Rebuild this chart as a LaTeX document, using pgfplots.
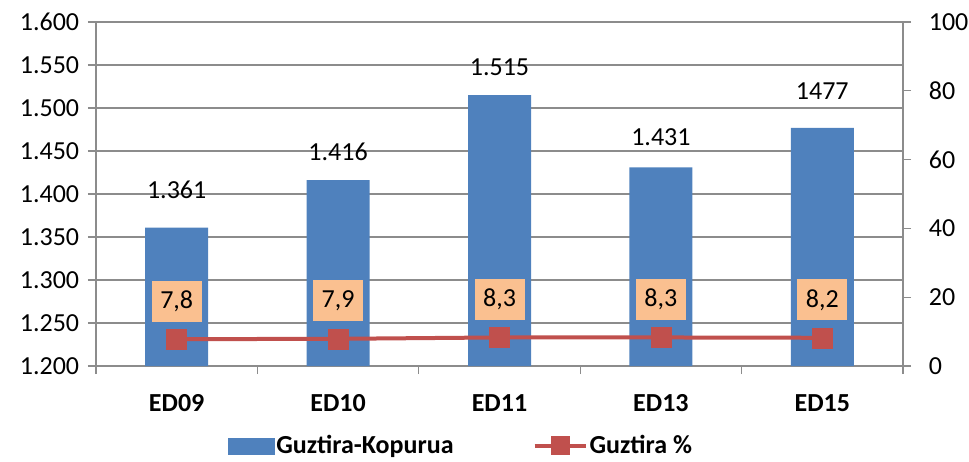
\documentclass[border=0pt]{standalone}
\usepackage{pgfplots}
\pgfplotsset{compat=1.18}
\usepackage{fontspec}
\setmainfont{Carlito}
\definecolor{barblue}{HTML}{4F81BD}
\definecolor{linered}{HTML}{C0504D}
\definecolor{boxorange}{HTML}{FAC090}
\definecolor{gridgray}{HTML}{8C8C8C}
\pgfplotstableread{
x y lab dy
0 1361 1.361 20.3
1 1416 1.416 10.3
2 1515 1.515 10.3
3 1431 1.431 12.3
4 1477 1477 19.3
}\bars
\pgfplotstableread{
x y lab
0 7.8 {7,8}
1 7.9 {7,9}
2 8.3 {8,3}
3 8.3 {8,3}
4 8.2 {8,2}
}\pct
\begin{document}
\fontsize{26}{31}\selectfont
\begin{tikzpicture}
\path[use as bounding box] (-96pt,-95pt) rectangle (873pt,366pt);
\pgfplotsset{
  common/.style={
    at={(0,0)}, anchor=south west, scale only axis,
    width=807pt, height=344pt,
    xmin=-0.5, xmax=4.5,
    tick align=outside, major tick length=8pt,
    axis line style={gridgray, line width=1.3pt, -},
    tick style={gridgray, line width=1.3pt},
    /pgf/number format/assume math mode=true,
    scaled ticks=false,
  }
}
\begin{axis}[common,
  ymin=1200, ymax=1600, ytick={1200,1250,...,1600},
  axis x line*=bottom, axis y line*=left,
  ymajorgrids, grid style={gridgray, line width=1.3pt},
  yticklabel style={/pgf/number format/.cd, fixed, 1000 sep={.}},
  x tick label as interval,
  xtick={-0.5,0.5,1.5,2.5,3.5,4.5},
  xticklabels={ED09,ED10,ED11,ED13,ED15},
  xticklabel style={font=\bfseries, yshift=-12pt},
  ybar, bar width=63pt,
]
\addplot[fill=barblue, draw=none, nodes near coords, point meta=explicit symbolic,
  visualization depends on={\thisrow{dy} \as \dy},
  every node near coord/.append style={black, anchor=south, yshift=\dy pt}]
  table[x=x, y=y, meta=lab] {\bars};
\end{axis}
\begin{axis}[common,
  ymin=0, ymax=100, ytick={0,20,...,100},
  axis y line*=right, axis x line=none,
  yticklabel style={xshift=9pt},
  legend style={at={(0.4523,-0.232)}, anchor=center, draw=none, fill=none,
    legend columns=2, font=\bfseries,
    /tikz/every even column/.append style={column sep=77pt}},
]
\addlegendimage{legend image code/.code={\fill[barblue] (0pt,-8pt) rectangle (46pt,8pt);}}
\addlegendentry{Guztira-Kopurua}
\addplot[linered, line width=4pt, mark=square*, mark size=10pt,
  mark options={fill=linered, draw=linered, line width=0.5pt},
  legend image code/.code={\draw[linered, line width=4pt] (0pt,0pt) -- (51pt,0pt);
     \fill[linered] (18pt,-7.5pt) rectangle (33pt,7.5pt);},
  nodes near coords, point meta=explicit symbolic,
  every node near coord/.append style={fill=boxorange, text=black, anchor=center,
    yshift=38pt, minimum width=50pt, minimum height=41pt, inner sep=0pt}]
  table[x=x, y=y, meta=lab] {\pct};
\addlegendentry{Guztira \%}
\end{axis}
\end{tikzpicture}
\end{document}
